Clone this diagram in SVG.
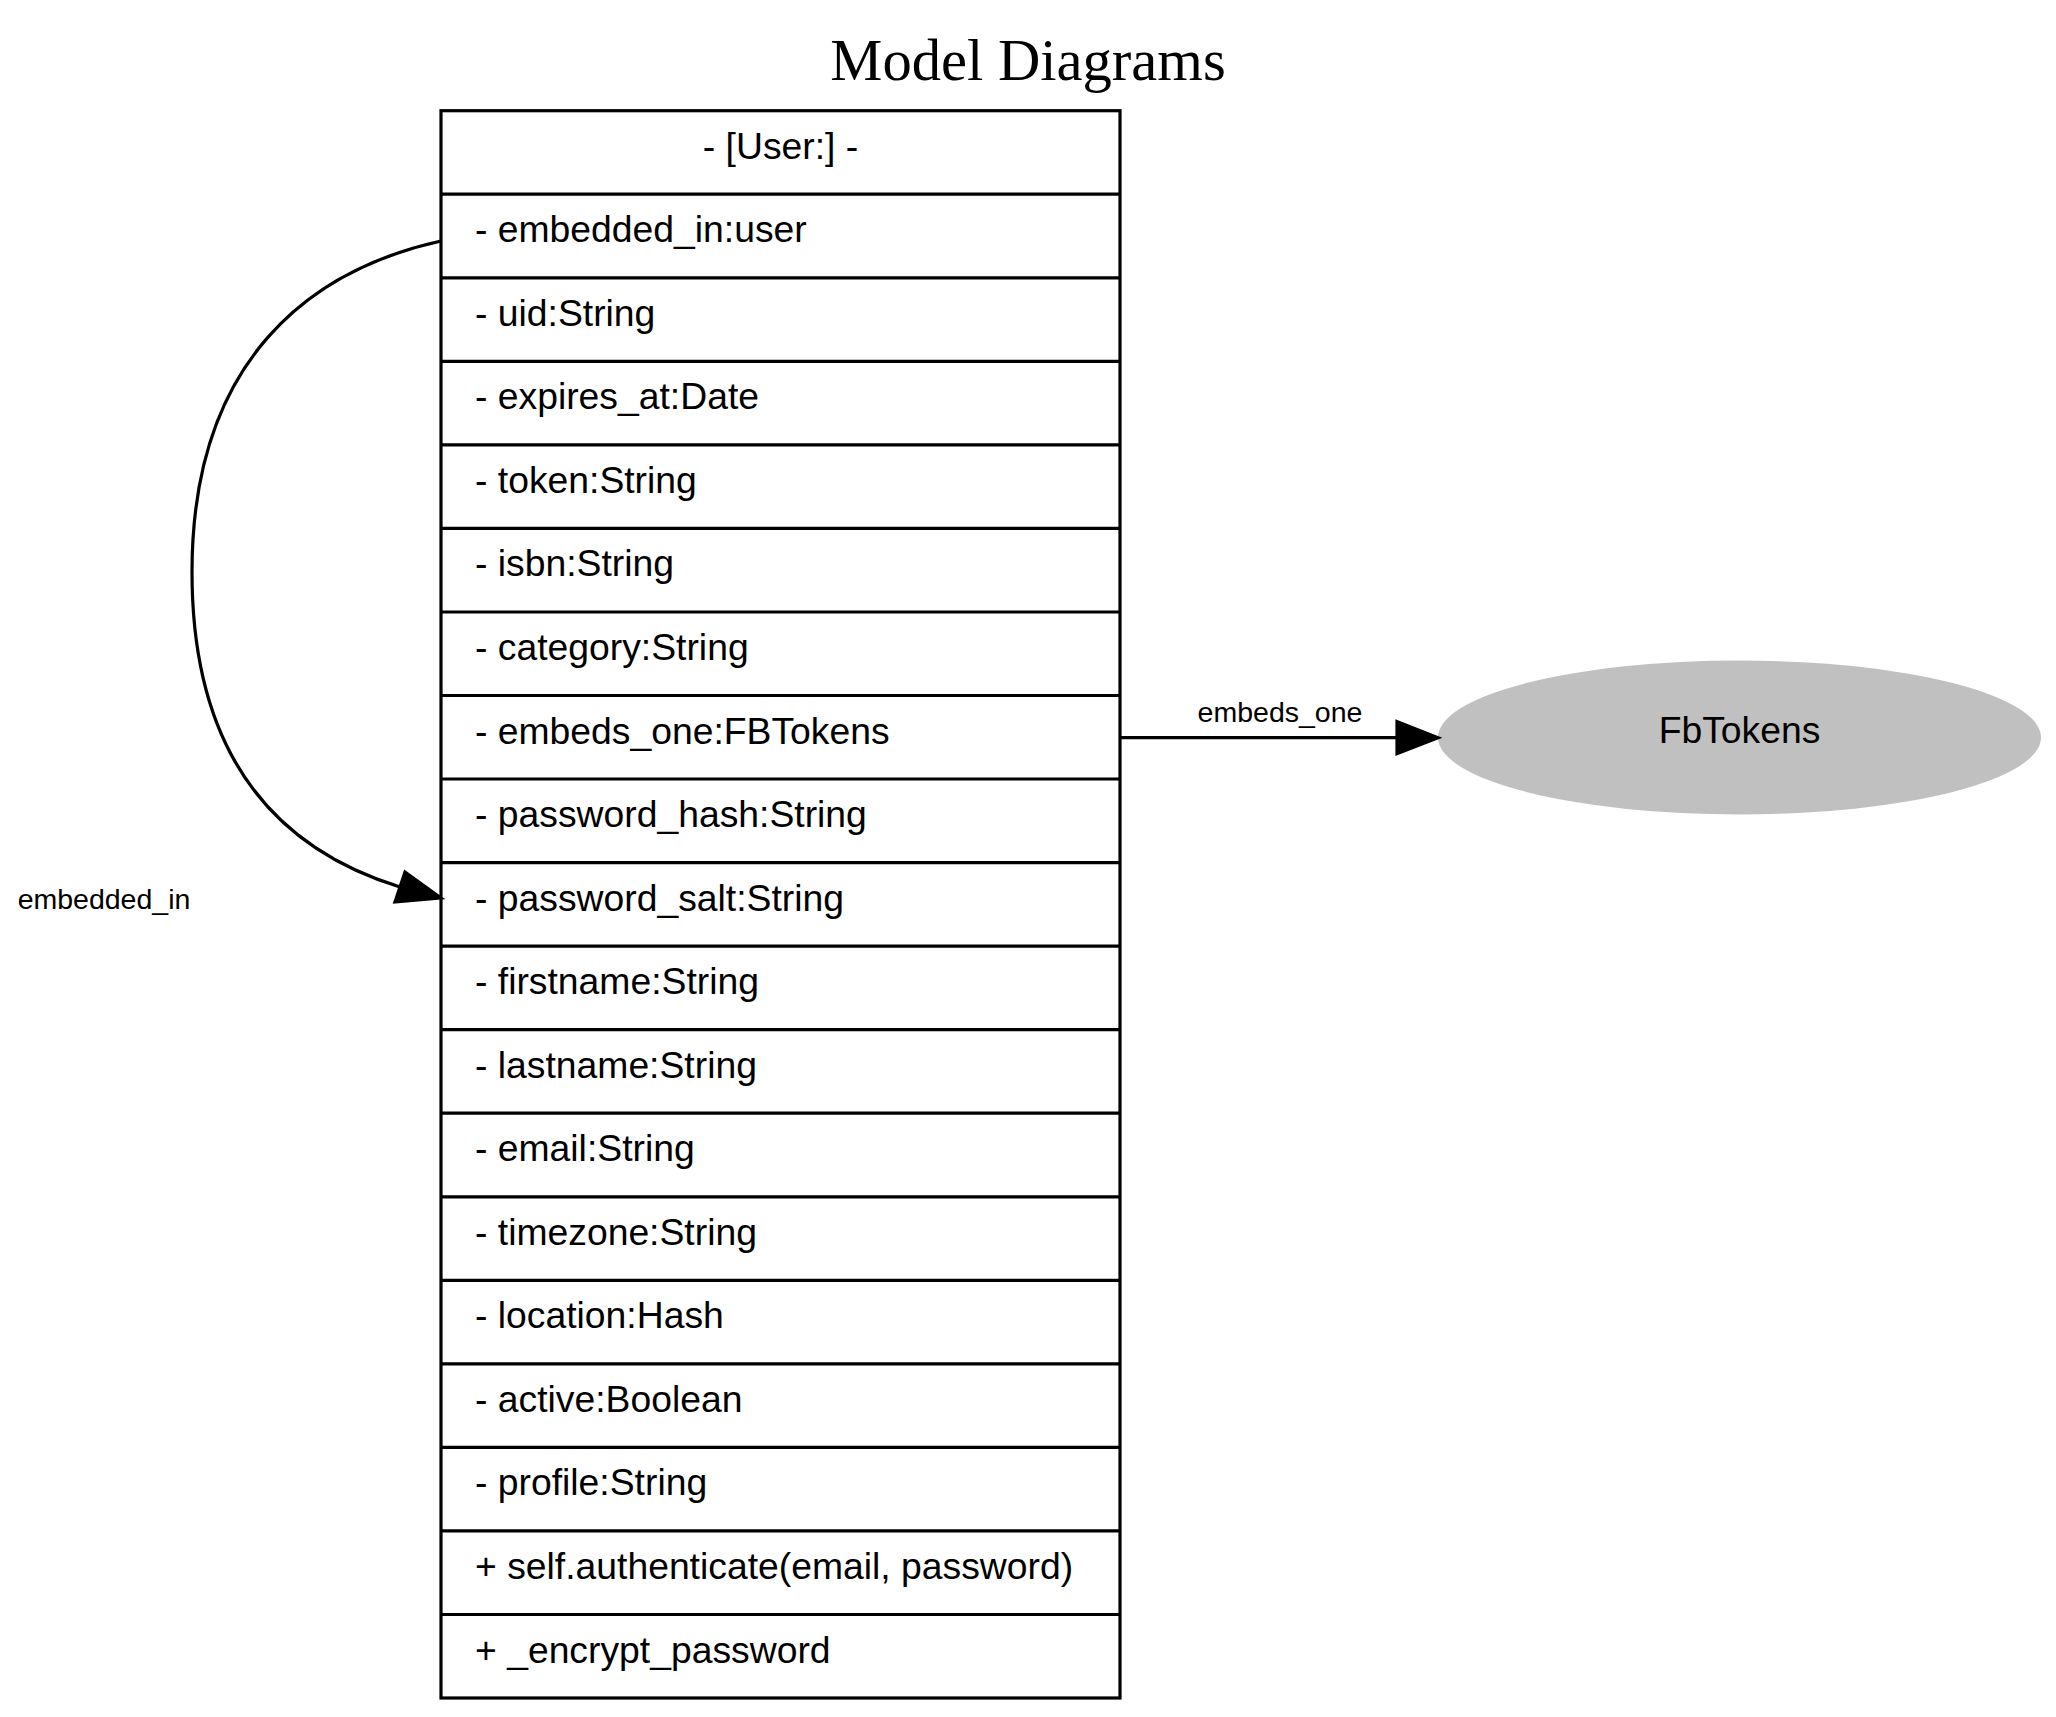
<svg xmlns="http://www.w3.org/2000/svg" width="2056" height="1717" viewBox="0 0 2056 1717">
<defs>
<style>
.t{font-family:"Liberation Sans",Arial,sans-serif;font-size:37.3px;fill:#000}
.lbl{font-family:"Liberation Sans",Arial,sans-serif;font-size:28.5px;fill:#000}
.ln{stroke:#000;stroke-width:3.2;fill:none}
.edge{stroke:#000;stroke-width:3.2;fill:none}
</style>
</defs>
<rect width="2056" height="1717" fill="#fff"/>
<text x="1028" y="80" text-anchor="middle" font-family="'Liberation Serif','Times New Roman',serif" font-size="58.6px">Model Diagrams</text>
<g id="User">
<rect class="ln" x="441" y="110.7" width="679" height="1587.3"/>
<g class="ln">
<line x1="441" y1="194.2" x2="1120" y2="194.2"/>
<line x1="441" y1="277.8" x2="1120" y2="277.8"/>
<line x1="441" y1="361.3" x2="1120" y2="361.3"/>
<line x1="441" y1="444.9" x2="1120" y2="444.9"/>
<line x1="441" y1="528.4" x2="1120" y2="528.4"/>
<line x1="441" y1="612.0" x2="1120" y2="612.0"/>
<line x1="441" y1="695.5" x2="1120" y2="695.5"/>
<line x1="441" y1="779.0" x2="1120" y2="779.0"/>
<line x1="441" y1="862.6" x2="1120" y2="862.6"/>
<line x1="441" y1="946.1" x2="1120" y2="946.1"/>
<line x1="441" y1="1029.7" x2="1120" y2="1029.7"/>
<line x1="441" y1="1113.2" x2="1120" y2="1113.2"/>
<line x1="441" y1="1196.8" x2="1120" y2="1196.8"/>
<line x1="441" y1="1280.3" x2="1120" y2="1280.3"/>
<line x1="441" y1="1363.9" x2="1120" y2="1363.9"/>
<line x1="441" y1="1447.4" x2="1120" y2="1447.4"/>
<line x1="441" y1="1530.9" x2="1120" y2="1530.9"/>
<line x1="441" y1="1614.5" x2="1120" y2="1614.5"/>
</g>
<text class="t" x="780.5" y="158.7" text-anchor="middle">- [User:] -</text>
<text class="t" x="475" y="242.2">- embedded_in:user</text>
<text class="t" x="475" y="325.8">- uid:String</text>
<text class="t" x="475" y="409.3">- expires_at:Date</text>
<text class="t" x="475" y="492.9">- token:String</text>
<text class="t" x="475" y="576.4">- isbn:String</text>
<text class="t" x="475" y="660.0">- category:String</text>
<text class="t" x="475" y="743.5">- embeds_one:FBTokens</text>
<text class="t" x="475" y="827.0">- password_hash:String</text>
<text class="t" x="475" y="910.6">- password_salt:String</text>
<text class="t" x="475" y="994.1">- firstname:String</text>
<text class="t" x="475" y="1077.7">- lastname:String</text>
<text class="t" x="475" y="1161.2">- email:String</text>
<text class="t" x="475" y="1244.8">- timezone:String</text>
<text class="t" x="475" y="1328.3">- location:Hash</text>
<text class="t" x="475" y="1411.9">- active:Boolean</text>
<text class="t" x="475" y="1495.4">- profile:String</text>
<text class="t" x="475" y="1578.9">+ self.authenticate(email, password)</text>
<text class="t" x="475" y="1662.5">+ _encrypt_password</text>
</g>
<g id="FbTokens">
<ellipse cx="1739.5" cy="737.5" rx="301.5" ry="77" fill="#c0c0c0"/>
<text class="t" x="1739.5" y="743" text-anchor="middle" font-size="33px">FbTokens</text>
</g>
<g id="connectors">
<g id="e1">
<path class="edge" d="M441,241 C310,270 192,360 192,572 C192,760 280,850 400,887"/>
<polygon points="441,898 395,902 405,872" fill="#000" stroke="#000" stroke-width="3.2"/>
<text class="lbl" x="104" y="909" text-anchor="middle">embedded_in</text>
</g>
<g id="e2">
<path class="edge" d="M1121,737.7 L1397,737.7"/>
<polygon points="1438,737.7 1397,721.7 1397,753.7" fill="#000" stroke="#000" stroke-width="3.2"/>
<text class="lbl" x="1280" y="722" text-anchor="middle">embeds_one</text>
</g>
</g>
</svg>
